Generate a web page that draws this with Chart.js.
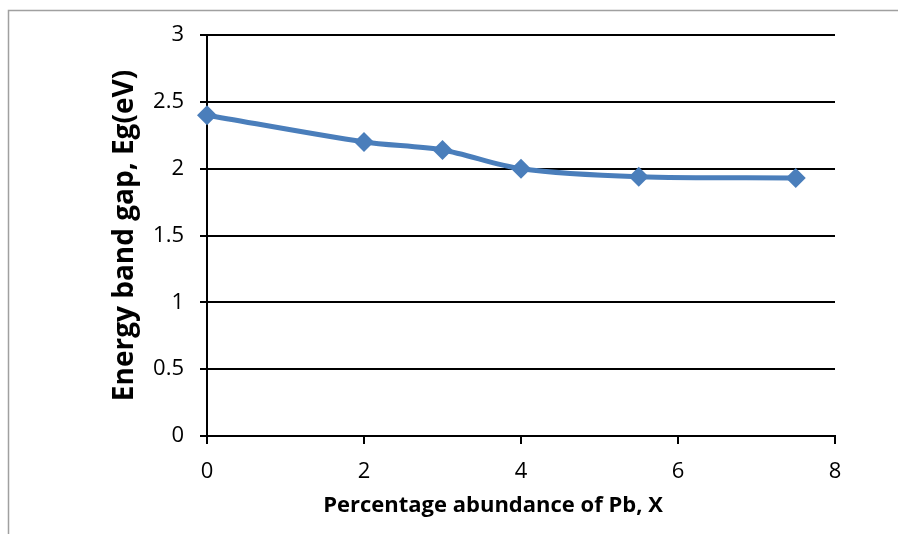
<!DOCTYPE html>
<html>
<head>
<meta charset="utf-8">
<script src="https://cdn.jsdelivr.net/npm/chart.js@4/dist/chart.umd.min.js"></script>
<style>
html,body{margin:0;padding:0;background:#fff;}
#wrap{width:898px;height:534px;position:relative;}
</style>
</head>
<body>
<div id="wrap"><canvas id="c" width="898" height="534"></canvas></div>
<script>
const xValues = [0, 2, 3, 4, 5.5, 7.5];
const yValues = [2.4, 2.2, 2.14, 2.0, 1.94, 1.93];
const xTicks = [0, 2, 4, 6, 8];
const yTicks = ['0', '0.5', '1', '1.5', '2', '2.5', '3'];
const xTitle = 'Percentage abundance of Pb, X';
const yTitle = 'Energy band gap, Eg(eV)';

const framePlugin = {
  id: 'frame',
  beforeDraw(chart) {
    const ctx = chart.ctx;
    ctx.save();
    ctx.fillStyle = '#fff';
    ctx.fillRect(0, 0, chart.width, chart.height);
    ctx.strokeStyle = '#a0a0a0';
    ctx.lineWidth = 1.5;
    ctx.beginPath();
    ctx.moveTo(8.5, chart.height + 5);
    ctx.lineTo(8.5, 10.5);
    ctx.lineTo(chart.width + 5, 10.5);
    ctx.stroke();
    ctx.restore();
  },
  afterDraw(chart) {
    const ctx = chart.ctx;
    ctx.save();
    ctx.fillStyle = '#000';
    ctx.font = 'bold 22px "Open Sans"';
    ctx.textAlign = 'center';
    ctx.textBaseline = 'middle';
    ctx.fillText(xTitle, 493, 506);
    ctx.restore();
  }
};

new Chart(document.getElementById('c'), {
  type: 'line',
  data: {
    datasets: [{
      data: xValues.map((x, i) => ({x: x, y: yValues[i]})),
      borderColor: '#4a7ebb',
      backgroundColor: '#4a7ebb',
      borderWidth: 5,
      tension: 0.3,
      clip: false,
      pointStyle: 'rectRot',
      pointRadius: 10,
      pointHoverRadius: 10,
      pointBorderWidth: 0,
      fill: false
    }]
  },
  options: {
    responsive: false,
    animation: false,
    events: [],
    layout: {padding: {left: 0, right: 63, top: 35, bottom: 0}},
    plugins: {legend: {display: false}, tooltip: {enabled: false}},
    scales: {
      x: {
        type: 'linear',
        min: 0, max: 8,
        afterBuildTicks(s) { s.ticks = xTicks.map(v => ({value: v})); },
        ticks: {color: '#000', font: {family: 'Open Sans', size: 22}, padding: 15, callback: v => String(v)},
        grid: {drawOnChartArea: false, drawTicks: true, tickLength: 8, color: '#000', lineWidth: 2},
        border: {display: true, color: '#000', width: 2},
        title: {display: false, text: xTitle},
        afterFit(s) { s.height = 98; }
      },
      y: {
        min: 0, max: 3,
        afterBuildTicks(s) { s.ticks = yTicks.map(v => ({value: parseFloat(v)})); },
        ticks: {color: '#000', font: {family: 'Open Sans', size: 22}, padding: 16, callback: (v, i) => yTicks[i]},
        grid: {drawTicks: true, tickLength: 7, color: '#000', lineWidth: 2},
        border: {display: true, color: '#000', width: 2},
        title: {display: true, text: yTitle, color: '#000', font: {family: 'Open Sans', size: 28, weight: 'bold'}, padding: {top: 108, bottom: 0}},
        afterFit(s) { s.width = 207; }
      }
    }
  },
  plugins: [framePlugin]
});
</script>
</body>
</html>
